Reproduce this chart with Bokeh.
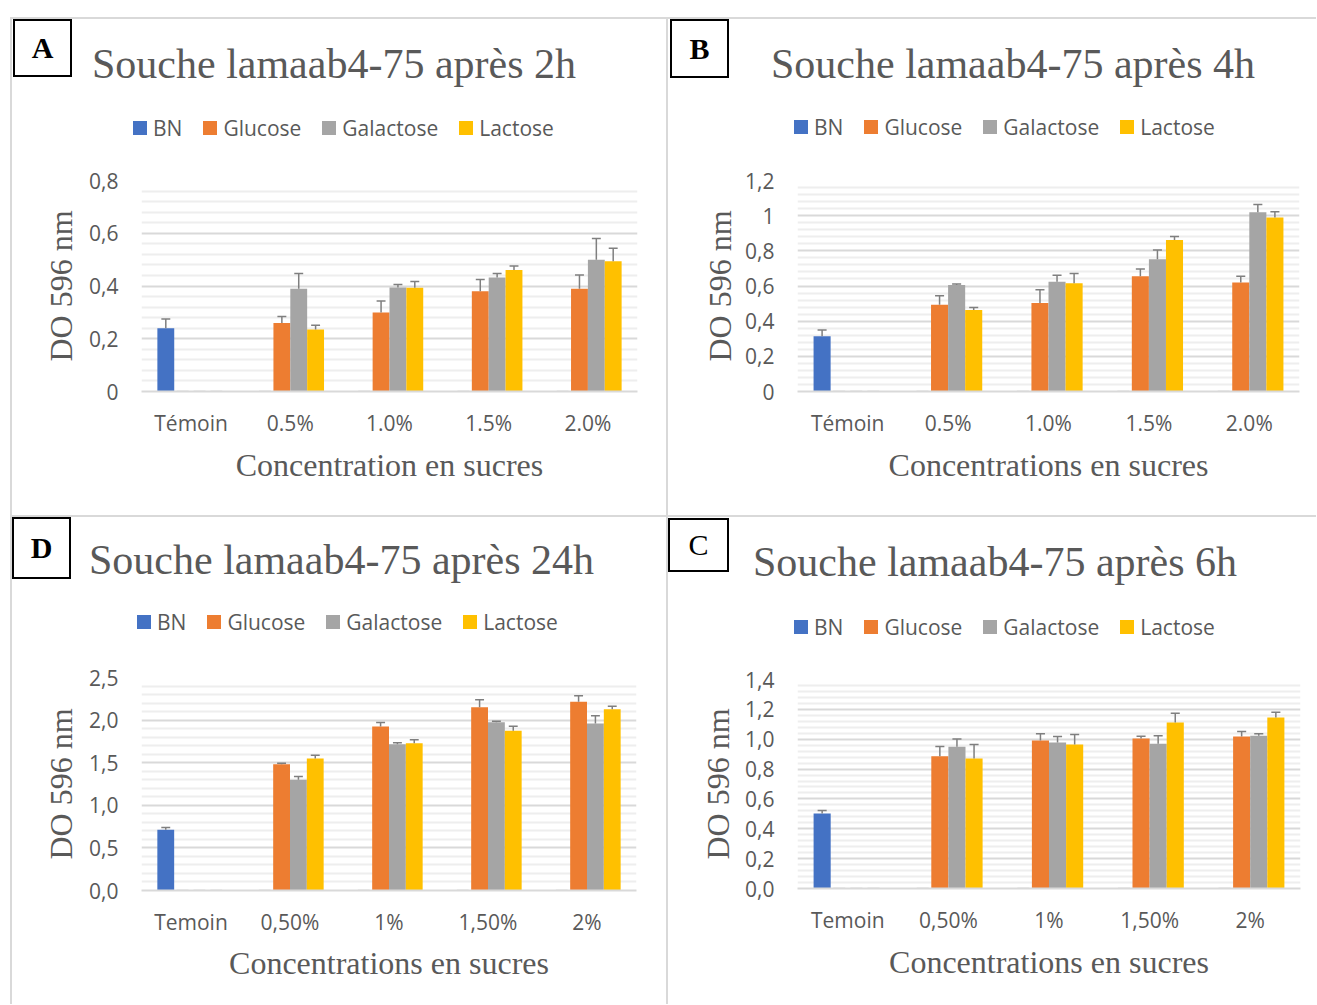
from bokeh.plotting import figure
from bokeh.models import (FactorRange, Range1d, FixedTicker, ColumnDataSource, Div, Spacer)
from bokeh.transform import dodge
from bokeh.layouts import column, row
from bokeh.embed import file_html
from bokeh.resources import INLINE

# ---------------- data ----------------
series = ["BN", "Glucose", "Galactose", "Lactose"]
colors = ["#4472C4", "#ED7D31", "#A5A5A5", "#FFC000"]

cats_ab = ["Témoin", "0.5%", "1.0%", "1.5%", "2.0%"]
cats_cd = ["Temoin", "0,50%", "1%", "1,50%", "2%"]

# Panel A : 2h
a_bn = [0.24, 0, 0, 0, 0]
a_glucose = [0, 0.26, 0.30, 0.38, 0.39]
a_galactose = [0, 0.39, 0.394, 0.432, 0.50]
a_lactose = [0, 0.235, 0.393, 0.461, 0.494]
a_bn_err = [0.035, 0, 0, 0, 0]
a_glucose_err = [0, 0.024, 0.043, 0.045, 0.052]
a_galactose_err = [0, 0.057, 0.012, 0.015, 0.08]
a_lactose_err = [0, 0.016, 0.024, 0.015, 0.049]
a_yticks = [0, 0.2, 0.4, 0.6, 0.8]
a_ylabels = ["0", "0,2", "0,4", "0,6", "0,8"]

# Panel B : 4h
b_bn = [0.314, 0, 0, 0, 0]
b_glucose = [0, 0.493, 0.503, 0.656, 0.620]
b_galactose = [0, 0.605, 0.624, 0.752, 1.019]
b_lactose = [0, 0.463, 0.616, 0.862, 0.990]
b_bn_err = [0.036, 0, 0, 0, 0]
b_glucose_err = [0, 0.051, 0.075, 0.041, 0.036]
b_galactose_err = [0, 0.006, 0.037, 0.053, 0.045]
b_lactose_err = [0, 0.015, 0.055, 0.020, 0.032]
b_yticks = [0, 0.2, 0.4, 0.6, 0.8, 1.0, 1.2]
b_ylabels = ["0", "0,2", "0,4", "0,6", "0,8", "1", "1,2"]

# Panel D : 24h
d_bn = [0.712, 0, 0, 0, 0]
d_glucose = [0, 1.483, 1.925, 2.152, 2.214]
d_galactose = [0, 1.299, 1.718, 1.976, 1.960]
d_lactose = [0, 1.549, 1.729, 1.874, 2.128]
d_bn_err = [0.027, 0, 0, 0, 0]
d_glucose_err = [0, 0.012, 0.047, 0.086, 0.071]
d_galactose_err = [0, 0.039, 0.015, 0.011, 0.090]
d_lactose_err = [0, 0.039, 0.039, 0.055, 0.036]
d_yticks = [0, 0.5, 1.0, 1.5, 2.0, 2.5]
d_ylabels = ["0,0", "0,5", "1,0", "1,5", "2,0", "2,5"]

# Panel C : 6h
c_bn = [0.502, 0, 0, 0, 0]
c_glucose = [0, 0.886, 0.991, 1.005, 1.018]
c_galactose = [0, 0.949, 0.978, 0.969, 1.023]
c_lactose = [0, 0.871, 0.965, 1.112, 1.145]
c_bn_err = [0.020, 0, 0, 0, 0]
c_glucose_err = [0, 0.065, 0.045, 0.015, 0.034]
c_galactose_err = [0, 0.053, 0.040, 0.054, 0.013]
c_lactose_err = [0, 0.094, 0.066, 0.062, 0.036]
c_yticks = [0, 0.2, 0.4, 0.6, 0.8, 1.0, 1.2, 1.4]
c_ylabels = ["0,0", "0,2", "0,4", "0,6", "0,8", "1,0", "1,2", "1,4"]

# ---------------- styling ----------------
TXT = "#595959"
GRID = "#d9d9d9"
MINOR = "#eeeeee"
ERR = "#7f7f7f"
offsets = [-0.255, -0.085, 0.085, 0.255]
BAR_W = 0.17
CAP = 0.045


def minor_between(ticks):
    out = []
    for a, b in zip(ticks[:-1], ticks[1:]):
        step = (b - a) / 5
        out += [a + step * k for k in range(1, 5)]
    return out


def spacer(w, h):
    return Spacer(width=w, height=h, margin=0)


def line_div(w, h):
    return Div(text="", width=w, height=h, margin=0,
               styles={"background-color": GRID})


def make_header(letter, bold, title, L):
    s0, bw, bt, bh, s1, tt, tw = L["header"]
    box = Div(text=letter, width=bw, height=bh, margin=0,
              styles={"border": "2px solid black", "box-sizing": "border-box",
                      "background-color": "white", "font-family": "Liberation Serif",
                      "font-size": "30px", "font-weight": "bold" if bold else "normal",
                      "text-align": "center", "line-height": f"{bh - 4}px", "color": "black"})
    ttl = Div(text=title, width=tw, height=47, margin=0,
              styles={"font-family": "Liberation Serif", "font-size": "42px",
                      "line-height": "47px", "color": TXT, "white-space": "nowrap",
                      "text-align": "left"})
    kids = []
    if s0:
        kids.append(spacer(s0, 1))
    kids.append(column(spacer(bw, bt), box) if bt else box)
    kids.append(spacer(s1, 1))
    kids.append(column(spacer(tw, tt), ttl))
    return row(*kids)


def make_legend(L):
    lx, ly, lw = L["legend"]
    parts = []
    for name, col in zip(series, colors):
        parts.append(
            f'<span style="display:inline-block;width:14px;height:14px;'
            f'background-color:{col};vertical-align:1px;margin-right:6px"></span>'
            f'<span style="margin-right:21px">{name}</span>')
    leg = Div(text="".join(parts), width=lw, height=28, margin=0,
              styles={"font-family": "Open Sans", "font-size": "21px",
                      "line-height": "28px", "color": TXT, "white-space": "nowrap"})
    return column(spacer(lx + lw, ly), row(spacer(lx, 28), leg))


def make_figure(cats, vals, errs, yticks, ylabels, xtitle, L):
    W, H = L["W"], L["H"]
    ml, mr, mt, mb = L["frame"]
    p = figure(width=W, height=H, x_range=FactorRange(factors=cats),
               y_range=Range1d(yticks[0], yticks[-1]),
               output_backend="svg", toolbar_location=None,
               min_border_left=ml, min_border_right=mr,
               min_border_top=mt, min_border_bottom=mb)
    p.outline_line_color = None
    p.background_fill_color = "white"
    p.border_fill_color = "white"

    ticker = FixedTicker(ticks=yticks, minor_ticks=minor_between(yticks))
    p.yaxis.ticker = ticker
    p.ygrid.ticker = ticker
    p.ygrid.grid_line_color = GRID
    p.ygrid.grid_line_width = 2
    p.ygrid.minor_grid_line_color = MINOR
    p.ygrid.minor_grid_line_width = 2
    p.xgrid.visible = False
    p.yaxis.major_label_overrides = dict(zip(yticks, ylabels))
    p.yaxis.axis_line_color = None
    p.yaxis.major_label_standoff = 23
    p.yaxis.axis_label = "DO 596 nm"
    p.yaxis.axis_label_standoff = L["ylab"]

    p.xaxis.axis_line_color = GRID
    p.xaxis.axis_line_width = 2
    p.xaxis.major_label_standoff = 17
    p.xaxis.axis_label = xtitle
    p.xaxis.axis_label_standoff = L["xlab"]

    for ax in (p.xaxis[0], p.yaxis[0]):
        ax.major_tick_line_color = None
        ax.minor_tick_line_color = None
        ax.major_tick_out = 0
        ax.major_tick_in = 0
        ax.minor_tick_out = 0
        ax.minor_tick_in = 0
        ax.major_label_text_font = "Open Sans"
        ax.major_label_text_font_size = "21px"
        ax.major_label_text_color = TXT
        ax.axis_label_text_font = "Liberation Serif"
        ax.axis_label_text_font_size = "32px"
        ax.axis_label_text_font_style = "normal"
        ax.axis_label_text_color = TXT

    for i, s in enumerate(series):
        src = ColumnDataSource(dict(cat=cats, top=vals[i]))
        p.vbar(x=dodge("cat", offsets[i], range=p.x_range), top="top", width=BAR_W,
               fill_color=colors[i], line_color=None, source=src)
        nz = [k for k in range(len(cats)) if vals[i][k] > 0]
        z = [k for k in range(len(cats)) if vals[i][k] == 0]
        esrc = ColumnDataSource(dict(cat=[cats[k] for k in nz],
                                     y0=[vals[i][k] for k in nz],
                                     y1=[vals[i][k] + errs[i][k] for k in nz]))
        p.segment(x0=dodge("cat", offsets[i], range=p.x_range), y0="y0",
                  x1=dodge("cat", offsets[i], range=p.x_range), y1="y1",
                  line_color=ERR, line_width=1.5, source=esrc)
        p.segment(x0=dodge("cat", offsets[i] - CAP, range=p.x_range), y0="y1",
                  x1=dodge("cat", offsets[i] + CAP, range=p.x_range), y1="y1",
                  line_color=ERR, line_width=1.5, source=esrc)
        zsrc = ColumnDataSource(dict(cat=[cats[k] for k in z], y=[vals[i][k] for k in z]))
        p.segment(x0=dodge("cat", offsets[i] - 0.06, range=p.x_range), y0="y",
                  x1=dodge("cat", offsets[i] + 0.06, range=p.x_range), y1="y",
                  line_color="#bfbfbf", line_width=1.5, source=zsrc)
    return p


# layout (pixels)
WA, WB = 654, 648
HA, HD = 496, 487

LA = dict(W=WA, H=372, frame=(129, 29, 38, 123), ylab=7, xlab=7,
          header=(1, 59, 0, 58, 20, 22, 560), legend=(121, 26, 480))
LB = dict(W=WB, H=373, frame=(129, 17, 39, 123), ylab=4, xlab=7,
          header=(2, 59, 0, 59, 42, 22, 530), legend=(126, 25, 480))
LD = dict(W=WA, H=367, frame=(129, 30, 41, 113), ylab=7, xlab=6,
          header=(0, 59, 0, 62, 18, 20, 560), legend=(125, 24, 480))
LC = dict(W=WB, H=362, frame=(129, 16, 38, 115), ylab=6, xlab=7,
          header=(0, 61, 1, 54, 24, 22, 550), legend=(126, 27, 480))


def panel(cats, vals, errs, yticks, ylabels, title, xtitle, letter, bold, L):
    hdr = make_header(letter, bold, title, L)
    leg = make_legend(L)
    fig = make_figure(cats, vals, errs, yticks, ylabels, xtitle, L)
    return column(hdr, leg, fig)


pA = panel(cats_ab, [a_bn, a_glucose, a_galactose, a_lactose],
           [a_bn_err, a_glucose_err, a_galactose_err, a_lactose_err],
           a_yticks, a_ylabels, "Souche lamaab4-75 après 2h",
           "Concentration en sucres", "A", True, LA)
pB = panel(cats_ab, [b_bn, b_glucose, b_galactose, b_lactose],
           [b_bn_err, b_glucose_err, b_galactose_err, b_lactose_err],
           b_yticks, b_ylabels, "Souche lamaab4-75 après 4h",
           "Concentrations en sucres", "B", True, LB)
pD = panel(cats_cd, [d_bn, d_glucose, d_galactose, d_lactose],
           [d_bn_err, d_glucose_err, d_galactose_err, d_lactose_err],
           d_yticks, d_ylabels, "Souche lamaab4-75 après 24h",
           "Concentrations en sucres", "D", True, LD)
pC = panel(cats_cd, [c_bn, c_glucose, c_galactose, c_lactose],
           [c_bn_err, c_glucose_err, c_galactose_err, c_lactose_err],
           c_yticks, c_ylabels, "Souche lamaab4-75 après 6h",
           "Concentrations en sucres", "C", False, LC)

inner_w = 2 + WA + 2 + WB
grid = column(
    line_div(inner_w, 2),
    row(line_div(2, HA), pA, line_div(2, HA), pB),
    line_div(inner_w, 2),
    row(line_div(2, HD), pD, line_div(2, HD), pC),
)
layout = column(spacer(1, 17), row(spacer(10, 1), grid))
open("out.html", "w").write(file_html(layout, INLINE))
